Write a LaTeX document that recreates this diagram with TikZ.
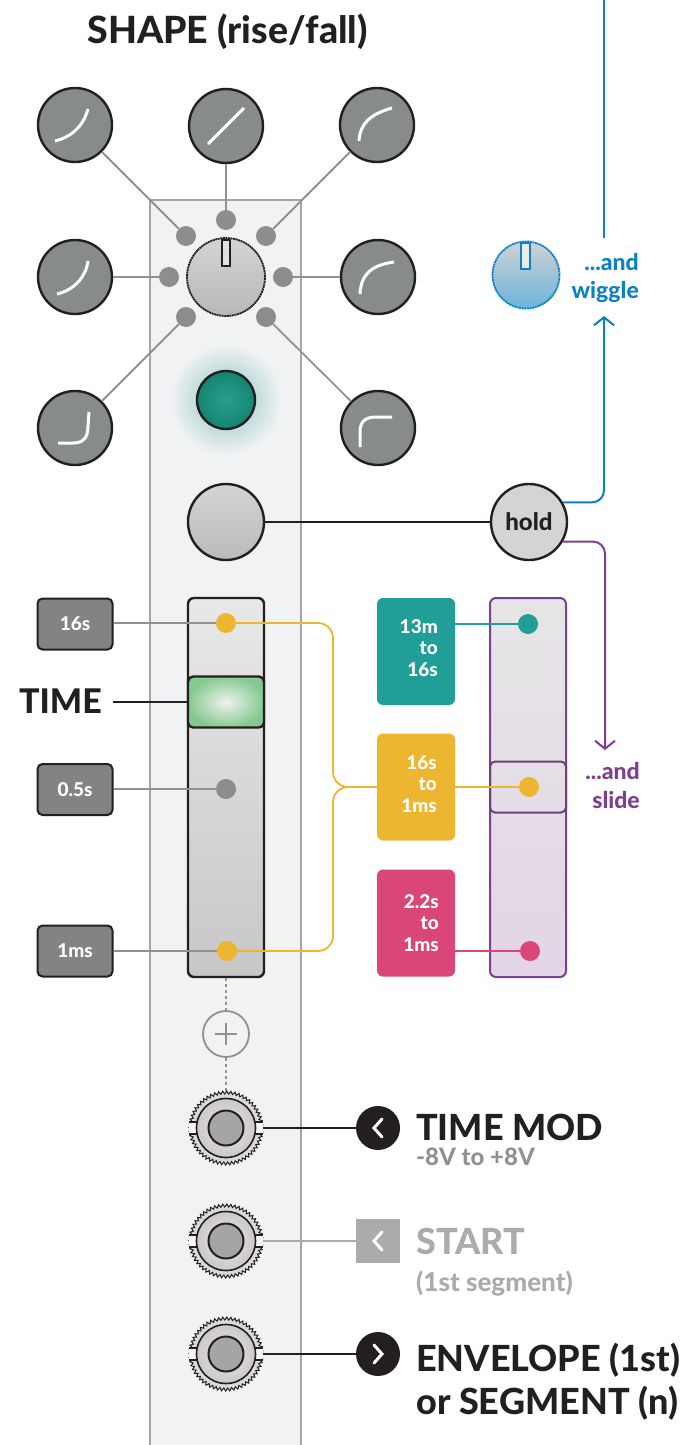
\documentclass[tikz,border=0pt]{standalone}
\usepackage{fontspec}
\IfFontExistsTF{Lato Heavy}{\setmainfont{Lato}[BoldFont={Lato Heavy}]}{%
  \IfFontExistsTF{Lato Black}{\setmainfont{Lato}[BoldFont={Lato Black}]}{%
    \setmainfont{Lato}[BoldFeatures={FakeBold=1.3}]}}
\usetikzlibrary{arrows.meta,decorations.pathmorphing,calc}
\definecolor{ink}{HTML}{231F20}
\definecolor{panel}{HTML}{F1F2F4}
\definecolor{panelline}{HTML}{A4A5A6}
\definecolor{knobgray}{HTML}{878B89}
\definecolor{dotgray}{HTML}{8B8E8D}
\definecolor{linegray}{HTML}{8F9291}
\definecolor{lboxfill}{HTML}{818483}
\definecolor{tealc}{HTML}{229E99}
\definecolor{yellowc}{HTML}{EDB631}
\definecolor{pinkc}{HTML}{D94677}
\definecolor{purplec}{HTML}{7D3F8F}
\definecolor{purpledark}{HTML}{6E3E78}
\definecolor{bluec}{HTML}{0A82C4}
\definecolor{capgreen}{HTML}{86C990}
\definecolor{capwhite}{HTML}{EEF2EE}
\definecolor{glow}{HTML}{8EC3BE}
\definecolor{ledin}{HTML}{2A9E94}
\definecolor{ledout}{HTML}{138570}
\definecolor{holdfill}{HTML}{D4D4D4}
\definecolor{startgray}{HTML}{ABABAB}
\definecolor{subgray}{HTML}{8F9291}
\definecolor{jackouter}{HTML}{DADADA}
\definecolor{jackin}{HTML}{E9E6E7}
\definecolor{jackmid}{HTML}{CCC8C9}
\definecolor{jackhole}{HTML}{A5A5A5}
\tikzset{
  sknob/.style={circle, draw=ink, line width=2.4pt, fill=knobgray, minimum size=74pt, inner sep=0pt},
  sdot/.style={circle, fill=dotgray, minimum size=20pt, inner sep=0pt},
  glink/.style={draw=linegray, line width=1.8pt},
  wcurve/.style={draw=white, line width=3pt},
  lbox/.style={draw=ink, line width=2pt, fill=lboxfill, rounded corners=5pt, minimum width=75pt, minimum height=51pt, inner sep=0pt, text=white, font=\bfseries\fontsize{19}{20}\selectfont},
  cbox/.style={rounded corners=6pt, minimum width=78pt, minimum height=107pt, inner sep=0pt},
  ctext/.style={anchor=base east, inner sep=0pt, text=white, font=\bfseries\fontsize{19}{20}\selectfont},
  bigtxt/.style={inner sep=0pt, text=ink, font=\bfseries\fontsize{36}{40}\selectfont},
  midtxt/.style={inner sep=0pt, font=\bfseries\fontsize{23}{26}\selectfont},
  cdot/.style={circle, minimum size=20pt, inner sep=0pt},
  ylink/.style={draw=yellowc, line width=1.8pt},
  jackspot/.style={circle, minimum size=74pt, inner sep=0pt},
  chev/.style={draw=white, line width=3pt, line cap=round, line join=miter},
  barb/.style={-{Straight Barb[length=8pt,width=20pt,line width=2pt]}},
  jackpic/.pic={
    \draw[fill=jackouter, draw=ink, line width=1pt, decorate, decoration={zigzag, segment length=4pt, amplitude=1.5pt}] (0,0) circle (35.5pt);
    \fill[white!92!gray] (-37,-6) rectangle (-28,6);
    \fill[white!92!gray] (28,-6) rectangle (37,6);
    \draw[ink, line width=1.2pt] (-37,-6) -- (-28,-6) (-37,6) -- (-28,6) (28,-6) -- (37,-6) (28,6) -- (37,6);
    \draw[ink, line width=1.6pt, inner color=jackin, outer color=jackmid] (0,0) circle (29.5pt);
    \draw[ink, line width=2pt, fill=jackhole] (0,0) circle (17.5pt);
  }
}
\begin{document}
\begin{tikzpicture}[x=1pt,y=-1pt]
\useasboundingbox (0,0) rectangle (700,1445);
% panel strip
\draw[fill=panel, draw=panelline, line width=1.2pt] (150,200) rectangle (301,1470);
% LED glow
\shade[inner color=glow, outer color=panel] (226,400) circle (56pt);

% title
\node[bigtxt, anchor=base, font=\bfseries\fontsize{37.5}{40}\selectfont] (title) at (227.5,44) {SHAPE (rise/fall)};

% shape knobs
\node[sknob] (k1) at (75,125) {};
\node[sknob] (k2) at (226,126) {};
\node[sknob] (k3) at (377,125) {};
\node[sknob] (k4) at (75,277) {};
\node[sknob] (k5) at (378,277) {};
\node[sknob] (k6) at (75,428) {};
\node[sknob] (k7) at (378,428) {};
% selector dots
\node[sdot] (d2) at (226,220) {};
\node[sdot] (d1) at (186,236) {};
\node[sdot] (d3) at (266,236) {};
\node[sdot] (d4) at (169,277) {};
\node[sdot] (d5) at (283,277) {};
\node[sdot] (d6) at (186,317) {};
\node[sdot] (d7) at (266,317) {};
\foreach \i in {1,...,7} { \draw[glink] (d\i) -- (k\i); }
% curves
\begin{scope}[shift={(k1.center)}]
  \draw[wcurve] (-20,16) .. controls (-4,12) and (8,2) .. (13,-16);
\end{scope}
\begin{scope}[shift={(k2.center)}]
  \draw[wcurve] (-18,18) -- (18,-18);
\end{scope}
\begin{scope}[shift={(k3.center)}]
  \draw[wcurve] (-18,16) .. controls (-17,-2) and (-6,-11) .. (15,-17);
\end{scope}
\begin{scope}[shift={(k4.center)}]
  \draw[wcurve] (-18,17) .. controls (-1,13) and (11,0) .. (13,-16);
\end{scope}
\begin{scope}[shift={(k5.center)}]
  \draw[wcurve] (-18,17) .. controls (-17,-4) and (-5,-12) .. (16,-15);
\end{scope}
\begin{scope}[shift={(k6.center)}]
  \draw[wcurve] (-17,15) -- (-2,15) .. controls (9,15) and (13,9) .. (13,-2) -- (14,-16);
\end{scope}
\begin{scope}[shift={(k7.center)}]
  \draw[wcurve] (-18,19) -- (-18,4) .. controls (-18,-7) and (-12,-11) .. (-2,-11) -- (14,-11);
\end{scope}
% central knob
\node[circle, minimum size=78pt, inner sep=0pt, top color=black!17, bottom color=black!28, draw=ink, line width=1.8pt, dash pattern=on 2pt off 0.6pt] (ck) at (226,277) {};
\draw[fill=black!12, draw=ink, line width=1.3pt] (222,240) rectangle (230,266);

% LED
\node[circle, minimum size=58pt, inner sep=0pt, inner color=ledin, outer color=ledout, draw=ink, line width=2.4pt] (led) at (226,400) {};

% hold button
\node[circle, minimum size=76pt, inner sep=0pt, top color=black!17, bottom color=black!27, draw=ink, line width=2.4pt] (btn) at (226,522) {};
\node[circle, minimum size=76pt, inner sep=0pt, fill=holdfill, draw=ink, line width=2.4pt, text=ink, font=\bfseries\fontsize{24}{26}\selectfont] (hold) at (529,522) {hold};
\draw[ink, line width=2.6pt] (btn) -- (hold);

% wiggle knob
\node[circle, minimum size=67pt, inner sep=0pt, top color=black!18!white, bottom color=bluec!60!white, draw=bluec, line width=1.8pt, dash pattern=on 2pt off 0.6pt] (wig) at (526,275) {};
\draw[fill=black!8, draw=bluec, line width=1.3pt] (521,243) rectangle (530,269);
\coordinate (btop) at (604,-2);
\coordinate (bend) at (604,238);
\draw[bluec, line width=2pt] (btop) -- (bend);
\coordinate (wtip) at (604,316);
\draw[bluec, line width=2pt, rounded corners=12pt, barb] (hold.30) -| (wtip);
\node[midtxt, text=bluec, anchor=base east] (and1) at (639,270) {...and};
\node[midtxt, text=bluec, anchor=base east] (wiggle) at (639,298) {wiggle};

% purple route
\coordinate (ptip) at (605,750);
\draw[purplec, line width=2pt, rounded corners=12pt, barb] (hold.-30) -| (ptip);
\node[midtxt, text=purplec, anchor=base east] (and2) at (640,779) {...and};
\node[midtxt, text=purplec, anchor=base east] (slide) at (640,808) {slide};

% TIME slider
\node[draw=ink, line width=2.4pt, rounded corners=6pt, top color=black!9!white, bottom color=black!22!white, minimum width=76pt, minimum height=379pt, inner sep=0pt] (ts) at (226,787.5) {};
\node[draw=ink, line width=2.4pt, rounded corners=5pt, inner color=capwhite, outer color=capgreen, minimum width=76pt, minimum height=51pt, inner sep=0pt] (tcap) at (226,702) {};
\node[bigtxt, anchor=base east, font=\bfseries\fontsize{34}{36}\selectfont] (timelbl) at (102,713) {TIME};
\draw[ink, line width=2.6pt] (113,702) -- (tcap.west);

% label boxes
\node[lbox] (l16) at (75,624) {16s};
\node[lbox] (l05) at (75,789.5) {0.5s};
\node[lbox] (l1) at (75,951) {1ms};
\node[cdot] (ytop) at (226,623) {};
\node[cdot] (gmid) at (226,789) {};
\node[cdot] (ybot) at (227,951) {};
\draw[glink] (l16.east |- ytop) -- (ytop.center);
\draw[glink] (l05.east |- gmid) -- (gmid.center);
\draw[glink] (l1.east |- ybot) -- (ybot.center);

% colored range boxes
\node[cbox, fill=tealc] (tb) at (416,651.5) {};
\node[cbox, fill=yellowc] (yb) at (416,787) {};
\node[cbox, fill=pinkc] (pb) at (416,923) {};
\draw[ylink, rounded corners=15pt] (ytop.center) -- (333,623) -- (333,787) -- (yb.west);
\draw[ylink, rounded corners=15pt] (ybot.center) -- (333,951) -- (333,787) -- (yb.west);
\node[cdot, fill=yellowc] at (ytop) {};
\node[cdot, fill=dotgray] at (gmid) {};
\node[cdot, fill=yellowc] at (ybot) {};

\node[ctext] at (438,633) {13m};
\node[ctext] at (438,654.5) {to};
\node[ctext] at (438,676) {16s};
\node[ctext] at (437,769) {16s};
\node[ctext] at (437,790.5) {to};
\node[ctext] at (437,812) {1ms};
\node[ctext] at (439,908) {2.2s};
\node[ctext] at (439,929.5) {to};
\node[ctext] at (439,951) {1ms};

% purple slider
\node[draw=purplec, line width=2pt, rounded corners=6pt, top color=black!10!white, bottom color=purplec!22!white, minimum width=76pt, minimum height=379pt, inner sep=0pt] (ps) at (528,787.5) {};
\node[draw=purpledark, line width=2pt, rounded corners=5pt, minimum width=76pt, minimum height=51pt, inner sep=0pt] (pcap) at (528,787) {};
\node[cdot] (tdot) at (528,624) {};
\node[cdot] (ydot2) at (529,787) {};
\node[cdot] (pdot) at (530,951) {};
\draw[tealc, line width=1.8pt] (tb.east |- tdot) -- (tdot.center);
\draw[yellowc, line width=1.8pt] (yb.east) -- (ydot2.center);
\draw[pinkc, line width=1.8pt] (pb.east |- pdot) -- (pdot.center);
\node[cdot, fill=tealc] at (tdot) {};
\node[cdot, fill=yellowc] at (ydot2) {};
\node[cdot, fill=pinkc] at (pdot) {};

% plus / attenuverter link
\node[jackspot] (j1) at (226,1128) {};
\node[jackspot] (j2) at (226,1241) {};
\node[jackspot] (j3) at (226,1354) {};
\node[circle, draw=linegray, line width=1.8pt, fill=panel, minimum size=46pt, inner sep=0pt] (plus) at (226,1034) {};
\draw[linegray, line width=2.5pt] ([xshift=-11pt]plus.center) -- ([xshift=11pt]plus.center);
\draw[linegray, line width=2.5pt] ([yshift=-11pt]plus.center) -- ([yshift=11pt]plus.center);
\draw[linegray, line width=1.8pt, dash pattern=on 3pt off 3pt] (ts.south) -- (plus.north);
\draw[linegray, line width=1.8pt, dash pattern=on 3pt off 3pt] (plus.south) -- (j1.north);

% jacks
\pic at (j1.center) {jackpic};
\pic at (j2.center) {jackpic};
\pic at (j3.center) {jackpic};

% I/O markers
\node[circle, fill=ink, minimum size=44pt, inner sep=0pt] (c1) at (378,1128) {};
\node[fill=startgray, minimum size=44pt, inner sep=0pt] (c2) at (378,1241) {};
\node[circle, fill=ink, minimum size=44pt, inner sep=0pt] (c3) at (378,1354) {};
\draw[ink, line width=2.6pt] (j1.east) -- (c1);
\draw[startgray, line width=2pt] (j2.east) -- (c2);
\draw[ink, line width=2.6pt] (j3.east) -- (c3);
\draw[chev] ([shift={(4,-9)}]c1.center) -- ([shift={(-4,0)}]c1.center) -- ([shift={(4,9)}]c1.center);
\draw[chev] ([shift={(4,-9)}]c2.center) -- ([shift={(-4,0)}]c2.center) -- ([shift={(4,9)}]c2.center);
\draw[chev] ([shift={(-4,-9)}]c3.center) -- ([shift={(4,0)}]c3.center) -- ([shift={(-4,9)}]c3.center);

\node[bigtxt, anchor=base west] (tmod) at (416,1140) {TIME MOD};
\node[midtxt, text=subgray, anchor=base west, font=\bfseries\fontsize{24}{26}\selectfont] (tmodr) at (416,1165) {-8V to +8V};
\node[bigtxt, text=startgray, anchor=base west] (start) at (416,1254) {START};
\node[midtxt, text=startgray, anchor=base west, font=\bfseries\fontsize{26}{28}\selectfont] (startsub) at (416,1291) {(1st segment)};
\node[bigtxt, anchor=base west] (env1) at (416,1371) {ENVELOPE (1st)};
\node[bigtxt, anchor=base west] (env2) at (416,1414) {or SEGMENT (n)};
\end{tikzpicture}
\end{document}
